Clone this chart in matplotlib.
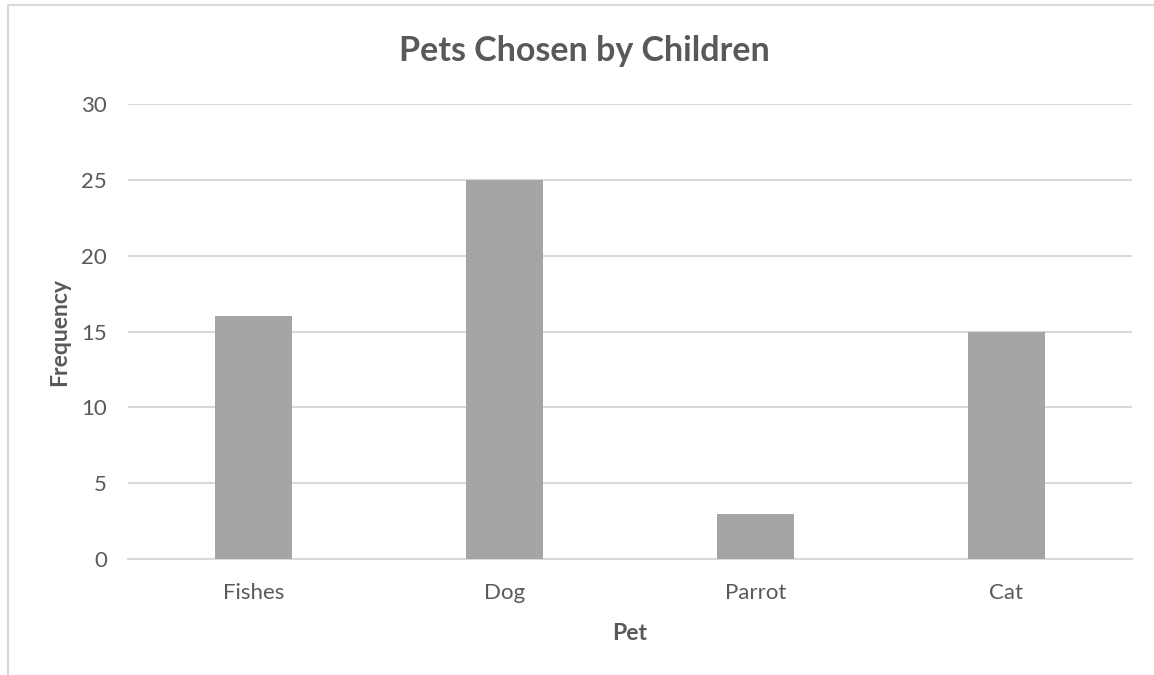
import matplotlib
matplotlib.use("Agg")
import matplotlib.pyplot as plt
from matplotlib.lines import Line2D

# data
pets = ["Fishes", "Dog", "Parrot", "Cat"]
frequency = [16, 25, 3, 15]
yticks = [0, 5, 10, 15, 20, 25, 30]

txt = "#595959"
plt.rcParams['font.family'] = ['Lato', 'DejaVu Sans']

fig = plt.figure(figsize=(11.54, 6.75), dpi=100)
ax = fig.add_axes([128/1154, 1 - 559/675, 1004/1154, 455/675])

x = range(len(pets))
ax.bar(x, frequency, width=0.31, color="#A5A5A5", zorder=3)

ax.set_xlim(-0.5, len(pets) - 0.5)
ax.set_ylim(0, 30)
ax.set_yticks(yticks)
ax.set_xticks(list(x))
ax.set_xticklabels(pets)
ax.grid(axis="y", color="#D9D9D9", linewidth=1.5, zorder=0)
for s in ["top", "right", "left"]:
    ax.spines[s].set_visible(False)
ax.spines["bottom"].set_color("#D9D9D9")
ax.spines["bottom"].set_linewidth(1.5)
ax.tick_params(length=0, labelsize=16, colors=txt)
ax.tick_params(axis="x", pad=17)
ax.tick_params(axis="y", pad=15)

ax.set_xlabel("Pet", fontsize=16.5, fontweight="bold", color=txt, labelpad=15)
ax.set_ylabel("Frequency", fontsize=16.5, fontweight="bold", color=txt, labelpad=8)
fig.text(584/1154, 1 - 51/675, "Pets Chosen by Children", ha="center", va="center",
         fontsize=24.5, fontweight="bold", color=txt)

# outer chart border (cropped)
fig.add_artist(Line2D([8/1154, 8/1154], [0, 1 - 5/675], transform=fig.transFigure, color="#D9D9D9", lw=1.5))
fig.add_artist(Line2D([8/1154, 1], [1 - 5/675, 1 - 5/675], transform=fig.transFigure, color="#D9D9D9", lw=1.5))

fig.savefig("out.png", dpi=100)
